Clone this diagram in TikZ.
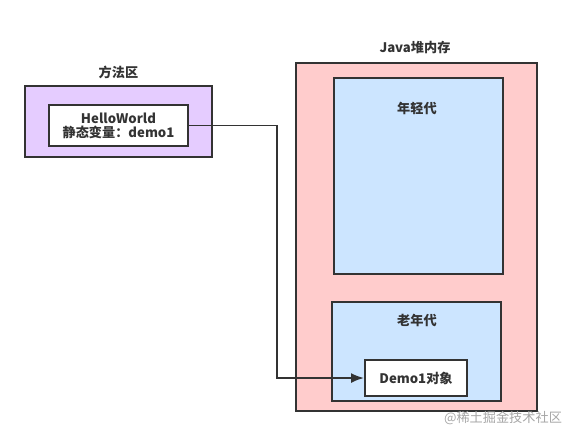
\documentclass[tikz,border=0pt]{standalone}
\usepackage{fontspec}
\setmainfont{Noto Sans CJK SC}
\usetikzlibrary{calc, arrows.meta}

\definecolor{methodfill}{HTML}{E5CCFF}
\definecolor{heapfill}{HTML}{FFCCCC}
\definecolor{genfill}{HTML}{CCE5FF}
\definecolor{edge}{HTML}{333333}

\begin{document}
\begin{tikzpicture}[x=0.02cm, y=-0.02cm, font=\fontsize{7.5}{9}\selectfont\bfseries]
    \tikzset{
      area/.style={draw=edge, line width=1.1pt, rectangle, inner sep=0pt},
      title/.style={text=edge, inner sep=0pt},
    }
    \useasboundingbox (0,0) rectangle (562,437);
    % method area
    \node [area, fill=methodfill, minimum width=187*0.02cm, minimum height=71*0.02cm] (method) at (118.5,121.5) {};
    \node [title] (methodname) at (118.5,72) {方法区};
    \node [area, fill=white, minimum width=139*0.02cm, minimum height=41*0.02cm, align=center, text=edge] (hello) at (118.5,125.5)
      {HelloWorld\\[-1pt]静态变量：demo1};
    % heap
    \node [area, fill=heapfill, minimum width=241*0.02cm, minimum height=348*0.02cm] (heap) at (416.5,237) {};
    \node [title] (heapname) at (415,47) {Java堆内存};
    \node [area, fill=genfill, minimum width=169*0.02cm, minimum height=196*0.02cm] (young) at (418.5,176) {};
    \node [title] (youngname) at (417,108) {年轻代};
    \node [area, fill=genfill, minimum width=169*0.02cm, minimum height=99*0.02cm] (old) at (416.5,351.5) {};
    \node [title] (oldname) at (417,320) {老年代};
    \node [area, fill=white, minimum width=102*0.02cm, minimum height=36*0.02cm, text=edge] (demo) at (416,378) {Demo1对象};

    \draw [edge, line width=1.1pt, -{Latex[length=2.6mm, width=2mm]}] (hello.east) -- ++(88,0) |- (demo.west);

    \node [text=black!35, font=\fontsize{7.5}{9}\selectfont] (mark) at (503,418) {@稀土掘金技术社区};
  \end{tikzpicture}
\end{document}
